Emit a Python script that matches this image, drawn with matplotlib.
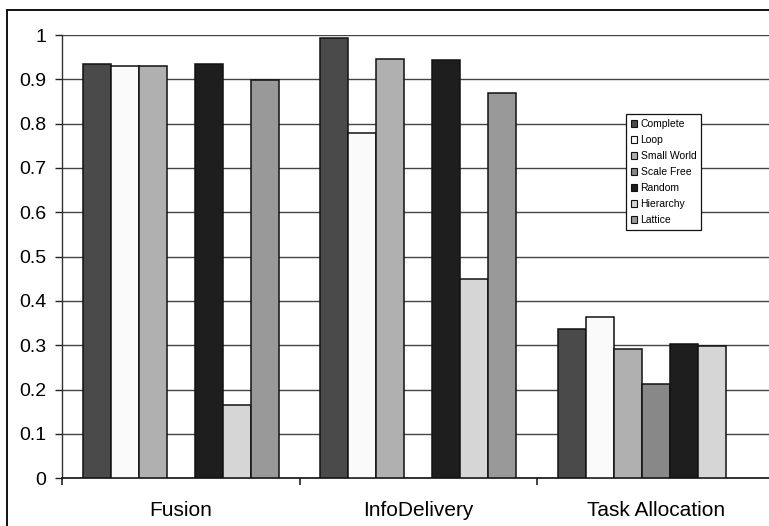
import numpy as np
import matplotlib
matplotlib.use("Agg")
import matplotlib.pyplot as plt
from matplotlib.patches import Patch, Rectangle

categories = ["Fusion", "InfoDelivery", "Task Allocation"]
series = ["Complete", "Loop", "Small World", "Scale Free", "Random", "Hierarchy", "Lattice"]
complete = [0.934, 0.994, 0.336]
loop = [0.931, 0.779, 0.363]
small_world = [0.931, 0.945, 0.291]
scale_free = [np.nan, np.nan, 0.2135]
random_ = [0.935, 0.943, 0.302]
hierarchy = [0.165, 0.450, 0.299]
lattice = [0.898, 0.870, np.nan]
y_ticks = [0, 0.1, 0.2, 0.3, 0.4, 0.5, 0.6, 0.7, 0.8, 0.9, 1]
y_tick_labels = ["0", "0.1", "0.2", "0.3", "0.4", "0.5", "0.6", "0.7", "0.8", "0.9", "1"]

values = [complete, loop, small_world, scale_free, random_, hierarchy, lattice]
colors = ["#4a4a4a", "#fafafa", "#b0b0b0", "#888888", "#1e1e1e", "#d6d6d6", "#999999"]

plt.rcParams["font.family"] = ["Liberation Sans", "DejaVu Sans"]

W, H = 769, 526
fig = plt.figure(figsize=(W / 100, H / 100), dpi=100)
ax = fig.add_axes([62 / W, (H - 478.3) / H, 712.6 / W, 443.3 / H])

n = len(series)
w = 1 / 8.5
x = np.arange(len(categories))
for i, (name, vals, c) in enumerate(zip(series, values, colors)):
    v = np.array(vals, dtype=float)
    m = ~np.isnan(v)
    ax.bar(x[m] + (i - (n - 1) / 2) * w, v[m], width=w, color=c,
           edgecolor="#111111", linewidth=1.1, zorder=3, label=name)

ax.set_xlim(-0.5, len(categories) - 0.5)
ax.set_ylim(0, 1)
ax.set_yticks(y_ticks)
ax.set_yticklabels(y_tick_labels)
ax.set_xticks(x)
ax.set_xticklabels(categories)
ax.set_xticks(np.arange(len(categories) + 1) - 0.5, minor=True)
ax.tick_params(axis="x", which="major", length=0, pad=16, labelsize=15)
ax.tick_params(axis="x", which="minor", length=5, width=1.2, direction="out", color="#222222")
ax.tick_params(axis="y", length=5, width=1, direction="out", pad=6.5, labelsize=14, color="#222222")
ax.yaxis.grid(True, color="#444444", linewidth=1.0, zorder=0)
ax.set_axisbelow(True)
for s in ["top", "right"]:
    ax.spines[s].set_visible(False)
ax.spines["left"].set_color("#333333")
ax.spines["bottom"].set_color("#111111")
ax.spines["left"].set_linewidth(1.0)
ax.spines["bottom"].set_linewidth(1.2)

handles = [Patch(facecolor=c, edgecolor="#111111", linewidth=0.8) for c in colors]
leg = fig.legend(handles, series, loc="upper left",
                 bbox_to_anchor=(626 / W, 1 - 114 / H), bbox_transform=fig.transFigure,
                 borderaxespad=0, frameon=True, fancybox=False, fontsize=7.5,
                 handlelength=0.65, handleheight=0.65, handletextpad=0.3,
                 labelspacing=0.58, borderpad=0.45)
leg.get_frame().set_edgecolor("#111111")
leg.get_frame().set_linewidth(0.9)
leg.get_frame().set_facecolor("white")
leg.get_frame().set_alpha(1)

border = Rectangle((7 / W, -0.2), 2, 1.2 - 10 / H, transform=fig.transFigure,
                   fill=False, edgecolor="#111111", linewidth=1.4, clip_on=False)
fig.patches.append(border)

fig.savefig("out.png", dpi=100)
